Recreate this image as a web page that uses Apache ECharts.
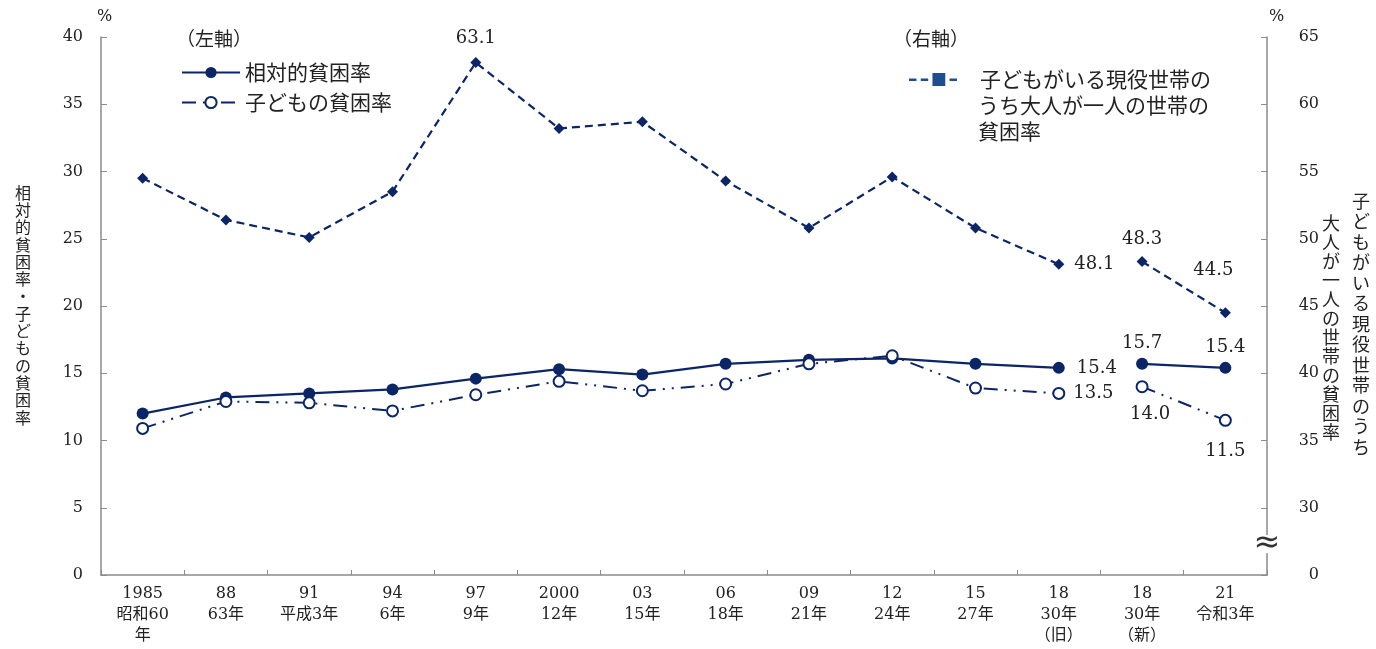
<!DOCTYPE html>
<html>
<head>
<meta charset="utf-8">
<script src="https://cdn.jsdelivr.net/npm/echarts@6/dist/echarts.min.js"></script>
<style>
html,body{margin:0;padding:0;background:#fff;}
#chart{width:1376px;height:649px;}
</style>
</head>
<body>
<div id="chart"></div>
<script>
const categories = ['1985\n昭和60\n年','88\n63年','91\n平成3年','94\n6年','97\n9年','2000\n12年','03\n15年','06\n18年','09\n21年','12\n24年','15\n27年','18\n30年\n（旧）','18\n30年\n（新）','21\n令和3年'];
const relativePoverty = [12.0, 13.2, 13.5, 13.8, 14.6, 15.3, 14.9, 15.7, 16.0, 16.1, 15.7, 15.4, 15.7, 15.4];
const childPoverty = [10.9, 12.9, 12.8, 12.2, 13.4, 14.4, 13.7, 14.2, 15.7, 16.3, 13.9, 13.5, 14.0, 11.5];
const singleAdultPoverty = [54.5, 51.4, 50.1, 53.5, 63.1, 58.2, 58.7, 54.3, 50.8, 54.6, 50.8, 48.1, 48.3, 44.5];
const leftTicks = [0, 5, 10, 15, 20, 25, 30, 35, 40];
const rightTicks = ['0', '30', '35', '40', '45', '50', '55', '60', '65'];
const splitIndex = 12; // new methodology (2018新) starts here
const singleLegendLines = ['子どもがいる現役世帯の', 'うち大人が一人の世帯の', '貧困率'];

const NAVY = '#0b2566';
const SERIF = "'DejaVu Serif', 'Noto Sans CJK JP', serif";
const JP = "'Noto Sans CJK JP', sans-serif";

const gridL = 101, gridR = 109, gridT = 37, gridB = 74;

const labelBase = {show: true, color: '#222', fontFamily: SERIF, fontSize: 18, formatter: p => p.value.toFixed(1)};
const relLabels = {11: {position: 'right', distance: 12}, 12: {position: 'top', distance: 6}, 13: {position: 'top', distance: 6}};
const childLabels = {11: {position: 'right', distance: 8}, 12: {position: 'bottom', distance: 12, offset: [8, 0]}, 13: {position: 'bottom', distance: 16}};
const singleLabels = {4: {position: 'top', distance: 10}, 11: {position: 'right', distance: 10}, 12: {position: 'top', distance: 8}, 13: {position: 'top', distance: 28, offset: [-12, 0]}};

function part(values, from, to, labels) {
  return values.map((v, i) => {
    if (i < from || i >= to) return null;
    if (labels[i]) return {value: v, label: Object.assign({}, labelBase, labels[i])};
    return v;
  });
}

function lineSeries(name, values, labels, extra) {
  const out = [];
  [[0, splitIndex], [splitIndex, values.length]].forEach(([a, b]) => {
    out.push(Object.assign({
      type: 'line', name: name,
      data: part(values, a, b, labels),
      connectNulls: false,
      emphasis: {disabled: true},
      animation: false
    }, JSON.parse(JSON.stringify(extra))));
  });
  return out;
}

const SINGLE_NAME = '子どもがいる現役世帯のうち大人が一人の世帯の貧困率';

const series = [].concat(
  lineSeries(SINGLE_NAME, singleAdultPoverty, singleLabels, {
    yAxisIndex: 1, symbol: 'diamond', symbolSize: 11,
    itemStyle: {color: NAVY},
    lineStyle: {color: NAVY, width: 2.2, type: [8, 5]}
  }),
  lineSeries('相対的貧困率', relativePoverty, relLabels, {
    yAxisIndex: 0, symbol: 'circle', symbolSize: 12,
    itemStyle: {color: NAVY},
    lineStyle: {color: NAVY, width: 2.2, type: 'solid'}
  }),
  lineSeries('子どもの貧困率', childPoverty, childLabels, {
    yAxisIndex: 0, symbol: 'emptyCircle', symbolSize: 11,
    itemStyle: {color: NAVY, borderWidth: 2.6, borderColor: NAVY},
    lineStyle: {color: NAVY, width: 2, type: [14, 7, 2, 7, 2, 7]}
  })
);

const chart = echarts.init(document.getElementById('chart'), null, {renderer: 'canvas'});

const axisLineStyle = {show: true, lineStyle: {color: '#8a8a8a', width: 1.5}};
const legendIconPath = 'path://M0,6h7v2.4h-7z M11,6h7v2.4h-7z M22,1h12v12h-12z M38,6h7v2.4h-7z';

const option = {
  backgroundColor: '#fff',
  animation: false,
  grid: {left: gridL, right: gridR, top: gridT, bottom: gridB, containLabel: false},
  legend: [
    {
      orient: 'vertical', left: 176, top: 57, itemWidth: 58, itemHeight: 14, itemGap: 9,
      data: ['相対的貧困率', '子どもの貧困率'],
      textStyle: {fontFamily: JP, fontSize: 21, color: '#222'},
      selectedMode: false
    },
    {
      orient: 'vertical', left: 904, top: 64, itemWidth: 48, itemHeight: 14,
      data: [{name: SINGLE_NAME, icon: legendIconPath, itemStyle: {color: '#1f4e8c'}}],
      formatter: () => singleLegendLines[0],
      textStyle: {fontFamily: JP, fontSize: 21, color: '#222', padding: [0, 0, 0, 18]},
      selectedMode: false
    }
  ],
  xAxis: {
    type: 'category', data: categories, boundaryGap: true,
    axisLine: axisLineStyle,
    axisTick: {show: true, inside: true, length: 5, alignWithLabel: false, lineStyle: {color: '#8a8a8a'}},
    axisLabel: {interval: 0, color: '#222', fontFamily: SERIF, fontSize: 16, lineHeight: 21, margin: 8},
    splitLine: {show: false}
  },
  yAxis: [
    {
      type: 'value', min: 0, max: 40, interval: 5, position: 'left',
      name: '%', nameLocation: 'end', nameGap: 12,
      nameTextStyle: {fontFamily: SERIF, fontSize: 16, color: '#222', align: 'left', padding: [0, 0, 0, -4]},
      axisLine: axisLineStyle,
      axisTick: {show: true, inside: true, length: 6, lineStyle: {color: '#8a8a8a'}},
      axisLabel: {color: '#222', fontFamily: SERIF, fontSize: 16, margin: 18,
        formatter: v => String(leftTicks[leftTicks.indexOf(v)])},
      splitLine: {show: false}
    },
    {
      type: 'value', min: 25, max: 65, interval: 5, position: 'right',
      name: '%', nameLocation: 'end', nameGap: 12,
      nameTextStyle: {fontFamily: SERIF, fontSize: 16, color: '#222', align: 'left', padding: [0, 0, 0, 2]},
      axisLine: axisLineStyle,
      axisTick: {show: true, inside: true, length: 6, lineStyle: {color: '#8a8a8a'},
        interval: (i, v) => v !== 25},
      axisLabel: {color: '#222', fontFamily: SERIF, fontSize: 16, margin: 52, align: 'right',
        formatter: v => rightTicks[(v - 25) / 5]},
      splitLine: {show: false}
    }
  ],
  series: series
};

chart.setOption(option);

const axisX = 1376 - gridR;
const breakY = chart.convertToPixel({yAxisIndex: 1}, 27.3);

function vertical(txt) { return txt.split('').join('\n'); }

chart.setOption({
  graphic: [
    {type: 'text', left: 176, top: 29, style: {text: '（左軸）', fontFamily: JP, fontSize: 19, fill: '#222'}},
    {type: 'text', left: 893, top: 29, style: {text: '（右軸）', fontFamily: JP, fontSize: 19, fill: '#222'}},
    {type: 'text', style: {text: singleLegendLines[1] + '\n' + singleLegendLines[2], x: 978, y: 92, fontFamily: JP, fontSize: 21, lineHeight: 26, fill: '#222'}},
    {type: 'text', style: {text: vertical('相対的貧困率・子どもの貧困率'), x: 23, y: 305, align: 'center', verticalAlign: 'middle', fontFamily: JP, fontSize: 16, lineHeight: 17.3, fill: '#222'}},
    {type: 'text', style: {text: vertical('子どもがいる現役世帯のうち'), x: 1361, y: 324, align: 'center', verticalAlign: 'middle', fontFamily: JP, fontSize: 18, lineHeight: 20.5, fill: '#222'}},
    {type: 'text', style: {text: vertical('大人が一人の世帯の貧困率'), x: 1331, y: 328, align: 'center', verticalAlign: 'middle', fontFamily: JP, fontSize: 18, lineHeight: 19, fill: '#222'}},
    {type: 'rect', shape: {x: axisX - 4, y: breakY - 9, width: 8, height: 18}, style: {fill: '#fff'}, z: 100},
    {type: 'text', z: 101, style: {text: '≈', x: axisX, y: breakY, align: 'center', verticalAlign: 'middle', fontFamily: "'DejaVu Sans'", fontSize: 32, fill: '#333'}}
  ]
});
</script>
</body>
</html>
